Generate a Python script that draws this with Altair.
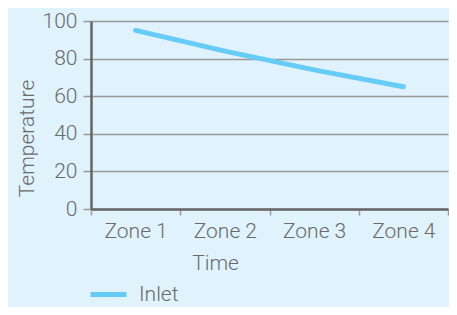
import altair as alt
import pandas as pd

zones = ["Zone 1", "Zone 2", "Zone 3", "Zone 4"]
inlet = [95, 84, 74, 65]
series = ["Inlet"] * 4

df = pd.DataFrame({"Time": zones, "Temperature": inlet, "Series": series})

TXT = "#6a6a6a"
GRID = "#999999"
FONT = "Roboto"
FS = 21

chart = alt.Chart(df).mark_line(strokeWidth=5, strokeCap="round").encode(
    x=alt.X("Time:N", sort=zones,
            scale=alt.Scale(paddingInner=0, paddingOuter=0),
            axis=alt.Axis(title="Time", labelAngle=0, tickBand="extent",
                          tickSize=6, labelPadding=5,
                          titleX=124, titleY=54, titleBaseline="middle",
                          titleAlign="center")),
    y=alt.Y("Temperature:Q", scale=alt.Scale(domain=[0, 100]),
            axis=alt.Axis(title="Temperature", values=[0, 20, 40, 60, 80, 100],
                          tickSize=8, labelPadding=6,
                          titleX=-64, titleY=117, titleBaseline="middle",
                          titleAlign="center", titleAngle=270)),
    color=alt.Color("Series:N", scale=alt.Scale(range=["#66ccf5"]),
                    legend=alt.Legend(title=None, orient="none",
                                      legendX=-3, legendY=253, padding=0,
                                      symbolType="stroke", symbolSize=1296,
                                      symbolStrokeWidth=5, labelOffset=10)),
).properties(
    width=357, height=188,
    autosize=alt.AutoSizeParams(type="none"),
    padding={"left": 83, "top": 13, "right": 1, "bottom": 98},
    background="#e0f2fc",
).configure_view(
    stroke=None,
).configure_axis(
    labelFont=FONT, titleFont=FONT,
    labelFontSize=FS, titleFontSize=FS,
    labelFontWeight=300, titleFontWeight=300,
    labelColor=TXT, titleColor=TXT,
    gridColor=GRID, gridWidth=1.5, gridOpacity=1,
    tickColor=GRID, tickWidth=1.5,
    domainColor="#666666", domainWidth=2.5,
).configure_legend(
    labelFont=FONT, labelFontSize=FS, labelColor=TXT, labelFontWeight=300,
)

chart.save("out.html", embed_options={"renderer": "svg", "actions": False})
